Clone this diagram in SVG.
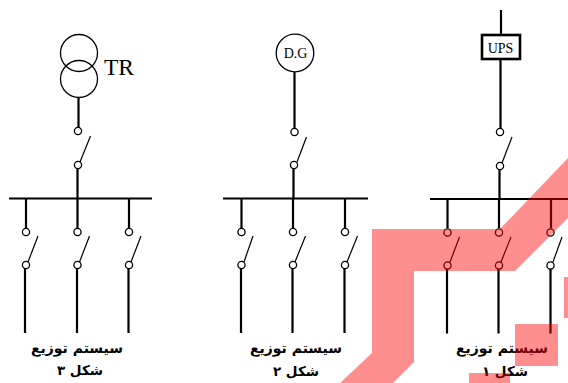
<svg xmlns="http://www.w3.org/2000/svg" width="568" height="383" viewBox="0 0 568 383">
<style>
.w{stroke:#000;stroke-width:2.2;fill:none}
.b{stroke:#000;stroke-width:2;fill:none}
.blade{stroke:#000;stroke-width:1.2;fill:none}
.t{stroke:#000;stroke-width:1.3;fill:#fff}
.o{stroke:#000;stroke-width:1.3;fill:none}
.box{stroke:#000;stroke-width:2.6;fill:#fff}
.s{font-family:"Liberation Serif",serif;fill:#000}
.c{font-family:"DejaVu Sans",sans-serif;font-weight:bold;font-size:14px;fill:#000;text-anchor:middle}
.d{font-size:13.500px}
.wm{fill:#f00;fill-opacity:.44}
</style>
<rect width="568" height="383" fill="#fff"/>
<g id="connectors">
<path class="w" d="M78.500 98V127M77.500 168V198M26 198V228M77.500 198V228M129 198V228M25 268V333M77 268V333M128.500 268V333"/>
<path class="w" d="M294.500 72V128M293.500 168V198M241.500 198V228M293 198V228M345 198V228M241 268V333M292.500 268V333M344.500 268V333"/>
<path class="w" d="M501 10V35M500.500 59V128M499.500 168V198M447.500 198V228M499 198V228M551 198V228M447 268V333.500M498.500 268V333.500M550.500 268V333.500"/>
<path class="b" d="M9 198.500H152M223 198.500H368M430 199H568"/>
<path class="blade" d="M80 162L90.500 136M28 262L38 236M79.500 262L89.500 236M131 262L141 236"/>
<path class="blade" d="M297 162L306.500 137M244 262L253 236M295 262L305.500 236M347 262L357.500 236"/>
<path class="blade" d="M502 163L512 137M450 262L459.500 237M501 262L511 237M553 262L562 237"/>
</g>
<g id="source-tr">
<circle class="o" cx="79" cy="53" r="18.500"/><circle class="o" cx="79" cy="79" r="18.500"/>
<text class="s" x="104" y="75" font-size="23.500">TR</text>
</g>
<g id="source-dg">
<circle class="t" cx="295" cy="53" r="18.800"/>
<text class="s" x="295.500" y="58" font-size="14" text-anchor="middle">D.G</text>
</g>
<g id="source-ups">
<rect class="box" x="482" y="35" width="38" height="24"/>
<text class="s" x="500.500" y="52.500" font-size="14" text-anchor="middle">UPS</text>
</g>
<g id="switches-3">
<circle class="t" cx="78" cy="131" r="3.600"/><circle class="t" cx="78" cy="165" r="3.600"/>
<circle class="t" cx="26" cy="232" r="3.600"/><circle class="t" cx="77.500" cy="232" r="3.600"/><circle class="t" cx="129" cy="232" r="3.600"/>
<circle class="t" cx="26" cy="265" r="3.600"/><circle class="t" cx="77.500" cy="265" r="3.600"/><circle class="t" cx="129" cy="265" r="3.600"/>
</g>
<g id="switches-2">
<circle class="t" cx="294.500" cy="132" r="3.600"/><circle class="t" cx="294" cy="165" r="3.600"/>
<circle class="t" cx="241.500" cy="232" r="3.600"/><circle class="t" cx="293" cy="232" r="3.600"/><circle class="t" cx="345" cy="232" r="3.600"/>
<circle class="t" cx="241.500" cy="265" r="3.600"/><circle class="t" cx="293" cy="265" r="3.600"/><circle class="t" cx="345" cy="265" r="3.600"/>
</g>
<g id="switches-1">
<circle class="t" cx="500" cy="132" r="3.600"/><circle class="t" cx="500" cy="166" r="3.600"/>
<circle class="t" cx="447.500" cy="232.500" r="3.600"/><circle class="t" cx="499" cy="232.500" r="3.600"/><circle class="t" cx="550.500" cy="232.500" r="3.600"/>
<circle class="t" cx="447.500" cy="265.500" r="3.600"/><circle class="t" cx="499" cy="265.500" r="3.600"/><circle class="t" cx="550.500" cy="265.500" r="3.600"/>
</g>
<g id="label-3"><text class="c" x="77" y="353" direction="rtl">سیستم توزیع</text><text class="c d" x="80" y="375" direction="rtl">شکل ۳</text></g>
<g id="label-2"><text class="c" x="296" y="353" direction="rtl">سیستم توزیع</text><text class="c d" x="296" y="376" direction="rtl">شکل ۲</text></g>
<g id="label-1"><text class="c" x="502" y="353" direction="rtl">سیستم توزیع</text><text class="c d" x="505" y="376" direction="rtl">شکل ۱</text></g>
<g id="watermark">
<path class="wm" d="M372 229H500L568 158V218L515 271H414V362L393 383H340L372 353Z"/>
<rect class="wm" x="515" y="324" width="43" height="42"/>
<rect class="wm" x="564" y="277" width="4" height="41"/>
<rect class="wm" x="469" y="373" width="41" height="10"/>
</g>
</svg>
